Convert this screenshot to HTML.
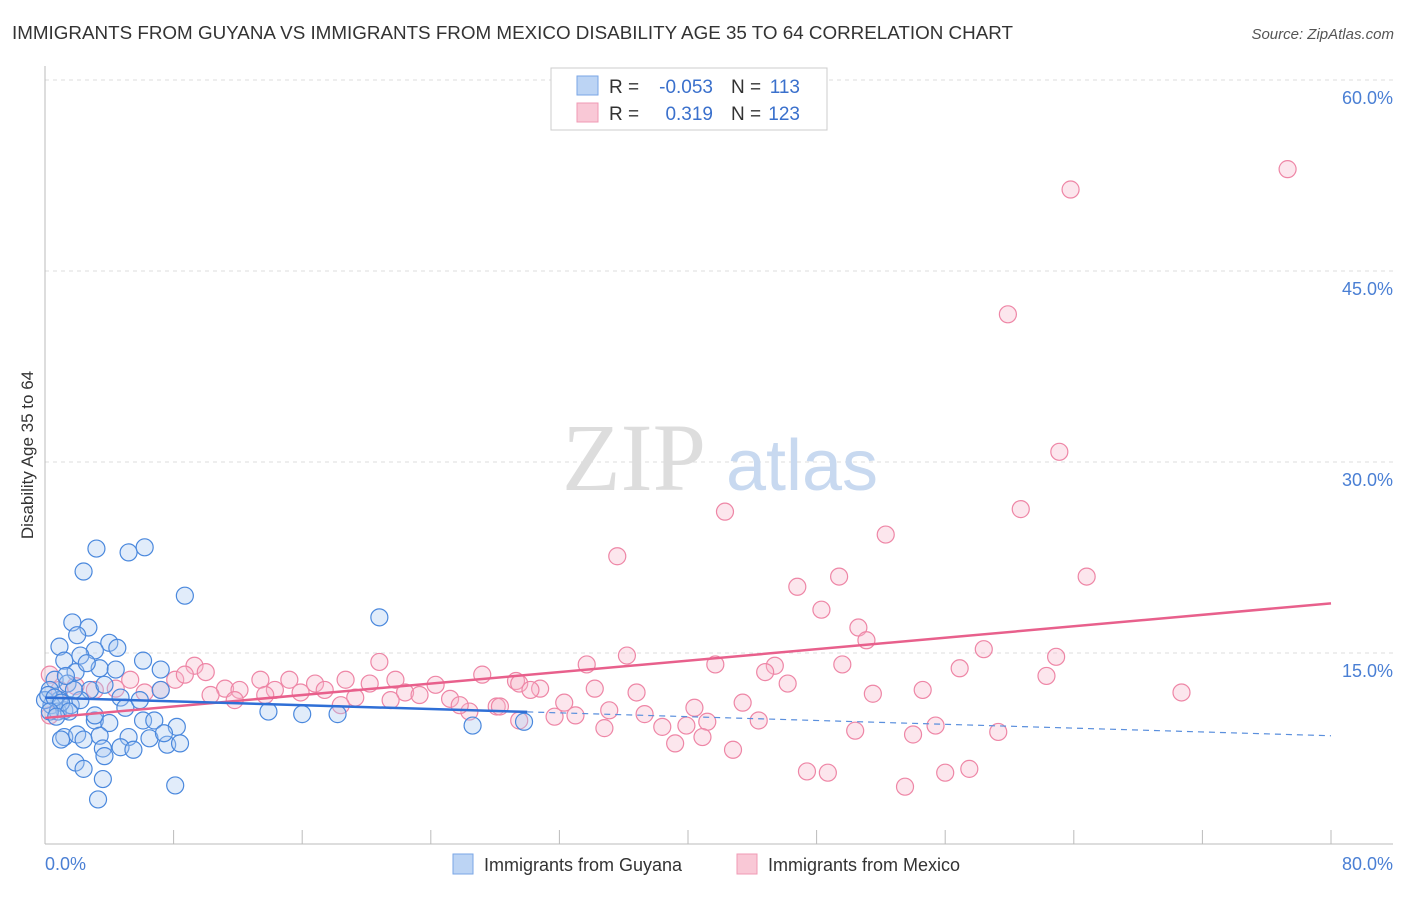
<!DOCTYPE html>
<html><head><meta charset="utf-8"><style>
body{margin:0;background:#fff;font-family:"Liberation Sans",sans-serif}
</style></head><body>
<svg width="1406" height="892" viewBox="0 0 1406 892" xmlns="http://www.w3.org/2000/svg">
<text x="12" y="39" font-size="18" fill="#333" textLength="1001" lengthAdjust="spacingAndGlyphs">IMMIGRANTS FROM GUYANA VS IMMIGRANTS FROM MEXICO DISABILITY AGE 35 TO 64 CORRELATION CHART</text>
<text x="1394" y="39" font-size="15" fill="#555" font-style="italic" text-anchor="end">Source: ZipAtlas.com</text>
<g id="grid"></g>
<g><text x="634" y="490" font-size="96" fill="#ddd" font-family="Liberation Serif,serif" text-anchor="middle">ZIP</text><text x="802" y="490" font-size="72" fill="#c8d9f0" text-anchor="middle">atlas</text></g>
<line x1="45" y1="66" x2="45" y2="844" stroke="#bbb"/>
<line x1="45" y1="844" x2="1393" y2="844" stroke="#bbb"/>
<g id="ticks"></g>
<g id="ylabels"></g>
<text x="45" y="870" font-size="18" fill="#4a7fd4">0.0%</text>
<text x="1393" y="870" font-size="18" fill="#4a7fd4" text-anchor="end">80.0%</text>
<text transform="translate(33,455) rotate(-90)" font-size="17" fill="#333" text-anchor="middle">Disability Age 35 to 64</text>
<g id="pink"></g>
<g id="blue"></g>
<g id="trends"></g>
<g>
<rect x="551" y="68" width="276" height="62" fill="#fff" stroke="#ccc"/>
<rect x="577" y="76" width="21" height="19" fill="#bcd4f4" stroke="#7aa6e6"/>
<rect x="577" y="103" width="21" height="19" fill="#f9c8d6" stroke="#f09ab4"/>
<text x="609" y="93" font-size="19" fill="#333">R =</text><text x="713" y="93" font-size="19" fill="#3a70cc" text-anchor="end">-0.053</text>
<text x="731" y="93" font-size="19" fill="#333">N =</text><text x="800" y="93" font-size="19" fill="#3a70cc" text-anchor="end">113</text>
<text x="609" y="120" font-size="19" fill="#333">R =</text><text x="713" y="120" font-size="19" fill="#3a70cc" text-anchor="end">0.319</text>
<text x="731" y="120" font-size="19" fill="#333">N =</text><text x="800" y="120" font-size="19" fill="#3a70cc" text-anchor="end">123</text>
</g>
<g>
<rect x="453" y="854" width="20" height="20" fill="#bcd4f4" stroke="#7aa6e6"/>
<text x="484" y="871" font-size="18" fill="#333">Immigrants from Guyana</text>
<rect x="737" y="854" width="20" height="20" fill="#f9c8d6" stroke="#f09ab4"/>
<text x="768" y="871" font-size="18" fill="#333">Immigrants from Mexico</text>
</g>
</svg>
<script>
const yTicks=[15,30,45,60];
const yTickLabels=["15.0%","30.0%","45.0%","60.0%"];
const xTicks=[0,8,16,24,32,40,48,56,64,72,80];
const blueX=[3.2,5.2,6.2,2.4,8.7,20.8,1.7,2.7,0.9,2.0,4.0,4.5,3.1,1.2,2.2,6.1,7.2,3.4,4.4,1.9,0.6,1.4,2.8,0.3,0.9,0.4,1.2,0,0.8,1.6,2.2,4.7,5.0,13.9,16.0,18.2,26.6,29.8,3.1,4.0,6.1,6.8,8.2,1.2,2.0,3.4,5.2,6.5,7.6,8.4,3.6,4.7,5.5,1.9,2.4,3.6,3.3,8.1,1.0,3.7,2.4,7.2,3.1,0.2,0.6,1.0,1.5,0.3,0.7,1.8,1.3,2.6,3.7,5.9,7.4];
const blueY=[23.2,22.9,23.3,21.4,19.5,17.8,17.4,17.0,15.5,16.4,15.8,15.4,15.2,14.4,14.8,14.4,13.7,13.8,13.7,13.5,12.9,12.6,12.1,12.1,11.3,10.9,10.5,11.3,10.4,10.9,11.3,11.5,10.7,10.4,10.2,10.2,9.3,9.6,9.7,9.5,9.7,9.7,9.2,8.4,8.6,8.5,8.4,8.3,7.8,7.9,7.5,7.6,7.4,6.4,5.9,5.1,3.5,4.6,8.2,6.9,8.2,12.1,10.1,11.7,11.5,11.1,10.4,10.4,10.0,12.1,13.2,14.2,12.5,11.3,8.7];
const pinkX=[77.3,63.8,59.9,63.1,42.3,60.7,52.3,35.6,49.4,64.8,46.8,48.3,50.6,51.1,58.4,36.2,62.9,41.7,49.6,45.4,56.9,33.7,44.8,62.3,46.2,27.2,20.8,9.3,51.5,54.6,70.7,36.8,34.2,30.8,29.3,43.4,40.4,35.1,31.7,26.4,28.1,37.3,41.2,44.4,55.4,38.4,39.9,34.8,50.4,59.3,54.0,40.9,39.2,42.8,47.4,48.7,56.0,57.5,53.5,10.0,11.2,12.1,13.4,14.3,15.2,15.9,16.8,17.4,18.7,19.3,20.2,21.8,22.4,23.3,24.3,25.2,25.8,28.3,29.5,7.2,8.1,6.2,5.3,4.4,3.1,1.9,0.9,0.3,0.3,10.3,11.8,8.7,13.7,18.4,21.5,30.2,32.3,33.0,29.5];
const pinkY=[53.0,51.4,41.6,30.8,26.1,26.3,24.3,22.6,21.0,21.0,20.2,18.4,17.0,16.0,15.3,14.8,14.7,14.1,14.1,14.0,13.8,14.1,13.5,13.2,12.6,13.3,14.3,14.0,11.8,12.1,11.9,11.9,12.2,12.2,12.8,11.1,10.7,10.5,10.0,10.4,10.8,10.2,9.6,9.7,9.3,9.2,9.3,9.1,8.9,8.8,8.6,8.4,7.9,7.4,5.7,5.6,5.6,5.9,4.5,13.5,12.2,12.1,12.9,12.1,12.9,11.9,12.6,12.1,12.9,11.5,12.6,12.9,11.9,11.7,12.5,11.4,10.9,10.8,12.6,12.1,12.9,11.9,12.9,12.2,12.1,12.4,12.1,13.3,10.1,11.7,11.3,13.3,11.7,10.9,11.3,12.1,11.1,10.1,9.7];
const blueTrend=[11.5,8.5], blueSolidEnd=30;
const pinkTrend=[9.9,18.9];
const NS="http://www.w3.org/2000/svg";
const sx=v=>45+v*(1286/80), sy=v=>844-v*(191/15);
function mk(tag,attrs,parent){const e=document.createElementNS(NS,tag);for(const k in attrs)e.setAttribute(k,attrs[k]);parent.appendChild(e);return e;}
const grid=document.getElementById('grid'),yl=document.getElementById('ylabels');
yTicks.forEach((t,i)=>{
 const g=mk('line',{x1:45,x2:1393,y1:sy(t),y2:sy(t),stroke:'#ddd','stroke-dasharray':'4,4'},grid);
 
 
 const l=mk('text',{x:1393,y:sy(t)+24,'font-size':18,fill:'#4a7fd4','text-anchor':'end'},yl);
 l.textContent=yTickLabels[i];
 
 
});
const tk=document.getElementById('ticks');
xTicks.forEach(t=>{
 const e=mk('line',{x1:sx(t),x2:sx(t),y1:830,y2:844,stroke:'#bbb'},tk);
 
 
});
function pts(id,X,Y,fill,stroke){const g=document.getElementById(id);X.forEach((x,i)=>{
 const c=mk('circle',{cx:sx(x),cy:sy(Y[i]),r:8.5,fill:fill,'fill-opacity':0.35,stroke:stroke,'stroke-width':1.2},g);
 
 
});}
pts('pink',pinkX,pinkY,'#f7b8cb','#ee86a6');
pts('blue',blueX,blueY,'#a9c8f0','#4a88dd');
const tr=document.getElementById('trends');
const bAt=x=>blueTrend[0]+(blueTrend[1]-blueTrend[0])*x/80;
let e=mk('line',{x1:sx(0),y1:sy(pinkTrend[0]),x2:sx(80),y2:sy(pinkTrend[1]),stroke:'#e8608c','stroke-width':2.5},tr);


e=mk('line',{x1:sx(0),y1:sy(bAt(0)),x2:sx(blueSolidEnd),y2:sy(bAt(blueSolidEnd)),stroke:'#2f6fd6','stroke-width':2.5},tr);


e=mk('line',{x1:sx(blueSolidEnd),y1:sy(bAt(blueSolidEnd)),x2:sx(80),y2:sy(bAt(80)),stroke:'#5a8fdd','stroke-width':1.2,'stroke-dasharray':'6,5'},tr);


</script>
</body></html>
